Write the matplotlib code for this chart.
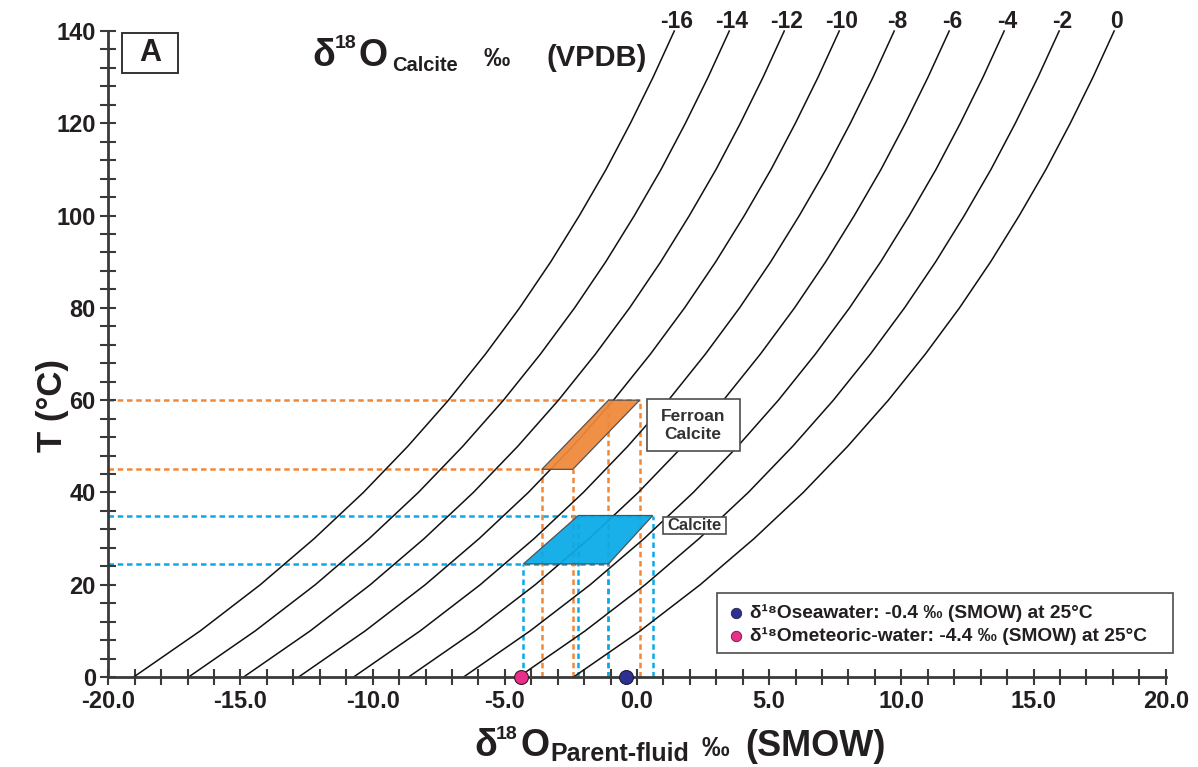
import matplotlib
matplotlib.use("Agg")
import matplotlib.pyplot as plt
from matplotlib.patches import Polygon, Rectangle
from matplotlib.ticker import MultipleLocator, FormatStrFormatter

plt.rcParams['font.family'] = ['Liberation Sans', 'DejaVu Sans']
plt.rcParams['font.weight'] = 'bold'
plt.rcParams['axes.unicode_minus'] = False

W, H = 1198, 767
TXT = '#231f20'
AXC = '#3a3a3a'

# temperature steps (°C) at which the calcite curves were read
temps = [0, 10, 20, 30, 40, 50, 60, 70, 80, 90, 100, 110, 120, 130, 140]

# fluid d18O (SMOW), one list per curve
x_m16 = [-19.04, -16.52, -14.25, -12.21, -10.35, -8.67, -7.13, -5.73, -4.44, -3.26, -2.18, -1.17, -0.25, 0.61, 1.41]
x_m14 = [-16.96, -14.44, -12.17, -10.13, -8.27, -6.59, -5.05, -3.65, -2.36, -1.18, -0.10, 0.91, 1.83, 2.69, 3.49]
x_m12 = [-14.88, -12.36, -10.09, -8.05, -6.19, -4.51, -2.97, -1.57, -0.28, 0.90, 1.98, 2.99, 3.91, 4.77, 5.57]
x_m10 = [-12.80, -10.28, -8.01, -5.97, -4.11, -2.43, -0.89, 0.51, 1.80, 2.98, 4.06, 5.07, 5.99, 6.85, 7.65]
x_m8 = [-10.72, -8.20, -5.93, -3.89, -2.03, -0.35, 1.19, 2.59, 3.88, 5.06, 6.14, 7.15, 8.07, 8.93, 9.73]
x_m6 = [-8.64, -6.12, -3.85, -1.81, 0.05, 1.73, 3.27, 4.67, 5.96, 7.14, 8.22, 9.23, 10.15, 11.01, 11.81]
x_m4 = [-6.56, -4.04, -1.77, 0.27, 2.13, 3.81, 5.35, 6.75, 8.04, 9.22, 10.30, 11.31, 12.23, 13.09, 13.89]
x_m2 = [-4.48, -1.96, 0.31, 2.35, 4.21, 5.89, 7.43, 8.83, 10.12, 11.30, 12.38, 13.39, 14.31, 15.17, 15.97]
x_0 = [-2.40, 0.12, 2.39, 4.43, 6.29, 7.97, 9.51, 10.91, 12.20, 13.38, 14.46, 15.47, 16.39, 17.25, 18.05]
curve_labels = ['-16', '-14', '-12', '-10', '-8', '-6', '-4', '-2', '0']

# ferroan calcite field
ferroan_T = [45, 60]
ferroan_x_low = [-3.60, -2.43]
ferroan_x_high = [-1.08, 0.10]

# calcite field
calcite_T = [24.5, 35]
calcite_x_low = [-4.30, -1.08]
calcite_x_high = [-2.22, 0.60]

seawater = -0.4
meteoric = -4.4

ORANGE = '#f0883a'
BLUE = '#0aaae8'
NAVY = '#2e3192'
PINK = '#e8308a'

fig = plt.figure(figsize=(W / 100, H / 100), dpi=100)
ax = fig.add_axes([108.3 / W, 1 - 677 / H, 1057.4 / W, 646 / H])
ax.set_xlim(-20, 20)
ax.set_ylim(0, 140)

curves = [x_m16, x_m14, x_m12, x_m10, x_m8, x_m6, x_m4, x_m2, x_0]
for xs in curves:
    ax.plot(xs, temps, color='#111111', lw=1.1, zorder=2, clip_on=False)
for xs, lab in zip(curves, curve_labels):
    ax.text(xs[-1] + 0.1, 140.6, lab, ha='center', va='baseline', fontsize=16.5,
            color=TXT, clip_on=False)

dash = (0, (2.2, 1.5))

# guide lines for the two fields
for T, xr, col in [(ferroan_T[1], ferroan_x_high[1], ORANGE), (ferroan_T[0], ferroan_x_low[0], ORANGE),
                   (calcite_T[1], calcite_x_high[1], BLUE), (calcite_T[0], calcite_x_low[1], BLUE)]:
    ax.plot([-20, xr], [T, T], color=col, lw=1.8, ls=dash, zorder=1)
for xv in ferroan_x_low:
    ax.plot([xv, xv], [0, ferroan_T[0]], color=ORANGE, lw=1.8, ls=dash, zorder=1)
for xv in ferroan_x_high:
    ax.plot([xv, xv], [0, ferroan_T[1]], color=ORANGE, lw=1.8, ls=dash, zorder=1)
for xv in calcite_x_low:
    ax.plot([xv, xv], [0, calcite_T[0]], color=BLUE, lw=1.8, ls=dash, zorder=1)
for xv in calcite_x_high:
    ax.plot([xv, xv], [0, calcite_T[1]], color=BLUE, lw=1.8, ls=dash, zorder=1)

ferroan_poly = [(ferroan_x_low[0], ferroan_T[0]), (ferroan_x_low[1], ferroan_T[0]),
                (ferroan_x_high[1], ferroan_T[1]), (ferroan_x_high[0], ferroan_T[1])]
calcite_poly = [(calcite_x_low[0], calcite_T[0]), (calcite_x_low[1], calcite_T[0]),
                (calcite_x_high[1], calcite_T[1]), (calcite_x_high[0], calcite_T[1])]
ax.add_patch(Polygon(ferroan_poly, closed=True, facecolor=ORANGE, edgecolor='#4d4d4d',
                     lw=0.9, alpha=0.94, zorder=3))
ax.add_patch(Polygon(calcite_poly, closed=True, facecolor=BLUE, edgecolor='#4d4d4d',
                     lw=0.9, alpha=0.94, zorder=3))

# label boxes
ax.add_patch(Rectangle((0.36, 49.0), 3.52, 11.2, facecolor='white', edgecolor='#4d4d4d',
                       lw=1.2, zorder=4))
ax.text(2.12, 54.5, 'Ferroan\nCalcite', ha='center', va='center', fontsize=12.5,
        color='#333333', linespacing=1.3, zorder=5)
ax.add_patch(Rectangle((1.0, 31.0), 2.35, 3.6, facecolor='white', edgecolor='#4d4d4d',
                       lw=1.2, zorder=4))
ax.text(2.18, 32.8, 'Calcite', ha='center', va='center', fontsize=12,
        color='#333333', zorder=5)

# legend box
ax.add_patch(Rectangle((3.02, 5.3), 17.25, 12.8, facecolor='white', edgecolor='#4d4d4d',
                       lw=1.2, zorder=4, clip_on=False))
ax.plot(3.75, 13.8, 'o', ms=7.5, color=NAVY, mec='#222244', mew=0.6, zorder=5)
ax.plot(3.75, 8.9, 'o', ms=7.5, color=PINK, mec='#552233', mew=0.6, zorder=5)
ax.text(4.28, 13.8, 'δ¹⁸Oseawater: -0.4 ‰ (SMOW) at 25°C', va='center', fontsize=13.8,
        color=TXT, zorder=5)
ax.text(4.28, 8.9, 'δ¹⁸Ometeoric-water: -4.4 ‰ (SMOW) at 25°C', va='center', fontsize=13.8,
        color=TXT, zorder=5)

# water points on the axis
ax.plot(seawater, 0, 'o', ms=10, color=NAVY, mec='#1a1a3a', mew=0.8, zorder=6, clip_on=False)
ax.plot(meteoric, 0, 'o', ms=10, color=PINK, mec='#3a1a2a', mew=0.8, zorder=6, clip_on=False)

# panel tag
ax.add_patch(Rectangle((-19.5, 130.9), 2.13, 8.7, facecolor='white', edgecolor='#333333',
                       lw=1.4, zorder=4))
ax.text(-18.43, 135.2, 'A', ha='center', va='center', fontsize=22, color=TXT, zorder=5)

# axes styling
for s in ['top', 'right']:
    ax.spines[s].set_visible(False)
for s in ['left', 'bottom']:
    ax.spines[s].set_color(AXC)
    ax.spines[s].set_linewidth(2)
ax.xaxis.set_major_locator(MultipleLocator(5))
ax.xaxis.set_minor_locator(MultipleLocator(1))
ax.yaxis.set_major_locator(MultipleLocator(20))
ax.yaxis.set_minor_locator(MultipleLocator(4))
ax.xaxis.set_major_formatter(FormatStrFormatter('%.1f'))
ax.yaxis.set_major_formatter(FormatStrFormatter('%d'))
ax.tick_params(which='both', direction='inout', length=12, width=1.5, color=AXC,
               labelsize=17, labelcolor=TXT)
ax.tick_params(axis='x', pad=3)
ax.tick_params(axis='y', pad=3)


def ftxt(px, py, s, size, **kw):
    fig.text(px / W, 1 - py / H, s, fontsize=size, fontweight='bold', ha='left',
             va='baseline', color=TXT, **kw)


# top title
ftxt(312, 66, 'δ', 27)
ftxt(335, 48, '18', 14)
ftxt(358, 66, 'O', 27)
ftxt(392, 71, 'Calcite', 14.5)
ftxt(484, 66, '‰', 19)
ftxt(547, 66, '(VPDB)', 21)

# x axis title
ftxt(474, 756, 'δ', 27)
ftxt(496, 739, '18', 14)
ftxt(520, 756, 'O', 27)
ftxt(550, 761, 'Parent-fluid', 18)
ftxt(702, 756, '‰', 20)
ftxt(745, 756, '(SMOW)', 26)

# y axis title
fig.text(53 / W, 1 - 406 / H, 'T (°C)', fontsize=25, fontweight='bold', rotation=90,
         ha='center', va='center', color=TXT)

fig.savefig('out.png', dpi=100)
